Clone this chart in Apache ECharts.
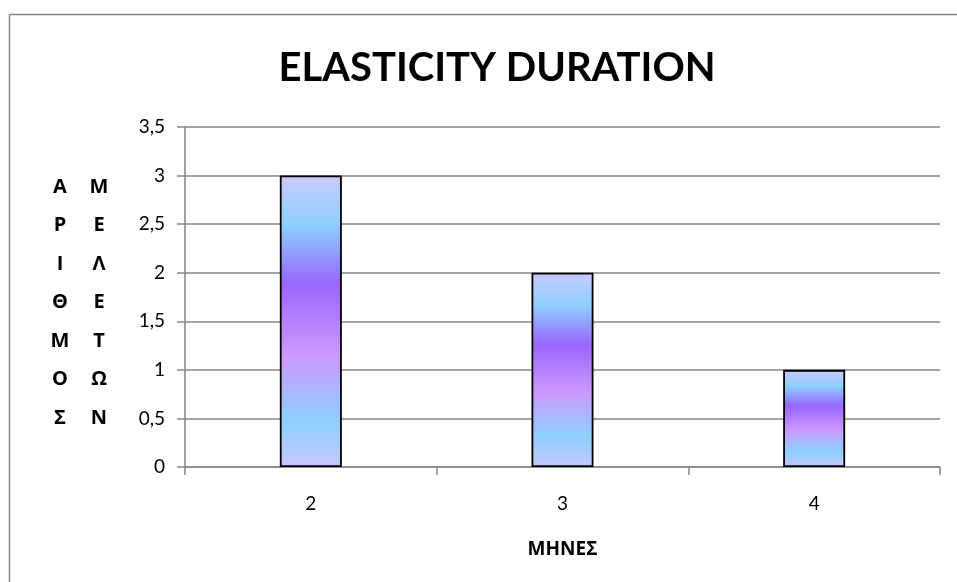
<!DOCTYPE html>
<html>
<head>
<meta charset="utf-8">
<style>
  html, body { margin: 0; padding: 0; background: #fff; overflow: hidden; }
  #chart { width: 957px; height: 582px; }
</style>
<script src="https://cdn.jsdelivr.net/npm/echarts@6/dist/echarts.min.js"></script>
</head>
<body>
<div id="chart"></div>
<script>
// Months of elasticity duration and number of studies for each
const months = ['2', '3', '4'];
const studies = [3, 2, 1];
const yTicks = [0, 0.5, 1, 1.5, 2, 2.5, 3, 3.5];
const titleText = 'ELASTICITY DURATION';
const xName = 'ΜΗΝΕΣ';
const yNameLeft = ['Α', 'Ρ', 'Ι', 'Θ', 'Μ', 'Ο', 'Σ'];
const yNameRight = ['Μ', 'Ε', 'Λ', 'Ε', 'Τ', 'Ω', 'Ν'];

const FONT = 'Lato, "Noto Sans", sans-serif';
const GREEK_FONT = '"Open Sans", "Noto Sans", sans-serif';

const barFill = new echarts.graphic.LinearGradient(0, 0, 0, 1, [
  { offset: 0.00, color: '#cacaff' },
  { offset: 0.17, color: '#8ccfff' },
  { offset: 0.37, color: '#9966ff' },
  { offset: 0.62, color: '#cc99ff' },
  { offset: 0.84, color: '#8ccfff' },
  { offset: 1.00, color: '#c6c8ff' }
]);

const chart = echarts.init(document.getElementById('chart'), null, { renderer: 'canvas' });

chart.setOption({
  backgroundColor: '#ffffff',
  animation: false,
  title: {
    text: titleText,
    left: 492,
    top: 43,
    textAlign: 'center',
    textStyle: { fontFamily: FONT, fontSize: 40, fontWeight: 'bold', color: '#000' }
  },
  grid: { left: 185, right: 17, top: 127, bottom: 115, containLabel: false },
  xAxis: {
    type: 'category',
    data: months,
    name: xName,
    nameLocation: 'middle',
    nameGap: 73,
    nameTextStyle: { fontFamily: GREEK_FONT, fontSize: 19, fontWeight: 'bold', color: '#000' },
    axisLine: { lineStyle: { color: '#868686', width: 1.5 } },
    axisTick: { show: true, length: 8, alignWithLabel: false, lineStyle: { color: '#868686', width: 1.5 } },
    axisLabel: { fontFamily: FONT, fontSize: 19, color: '#000', margin: 27 }
  },
  yAxis: {
    type: 'value',
    min: yTicks[0],
    max: yTicks[yTicks.length - 1],
    interval: 0.5,
    axisLine: { show: true, lineStyle: { color: '#868686', width: 1.5 } },
    axisTick: { show: true, length: 8, lineStyle: { color: '#868686', width: 1.5 } },
    splitLine: { show: true, lineStyle: { color: '#868686', width: 1.5 } },
    axisLabel: {
      fontFamily: FONT, fontSize: 19, color: '#000', margin: 20,
      formatter: v => String(v).replace('.', ',')
    }
  },
  series: [{
    type: 'bar',
    data: studies,
    barWidth: 62,
    itemStyle: { color: barFill, borderColor: '#000', borderWidth: 1.8 }
  }],
  graphic: [
    {
      type: 'line',
      shape: { x1: 9.5, y1: 14.5, x2: 957, y2: 14.5 },
      style: { stroke: '#868686', lineWidth: 1.5 },
      silent: true
    },
    {
      type: 'line',
      shape: { x1: 9.5, y1: 14.5, x2: 9.5, y2: 582 },
      style: { stroke: '#868686', lineWidth: 1.5 },
      silent: true
    },
    {
      type: 'text',
      x: 60, y: 168,
      style: {
        text: yNameLeft.join('\n'),
        fontFamily: GREEK_FONT, fontSize: 20, fontWeight: 'bold', fill: '#000',
        lineHeight: 38.5, align: 'center', verticalAlign: 'top'
      }
    },
    {
      type: 'text',
      x: 99, y: 168,
      style: {
        text: yNameRight.join('\n'),
        fontFamily: GREEK_FONT, fontSize: 20, fontWeight: 'bold', fill: '#000',
        lineHeight: 38.5, align: 'center', verticalAlign: 'top'
      }
    }
  ]
});
</script>
</body>
</html>
